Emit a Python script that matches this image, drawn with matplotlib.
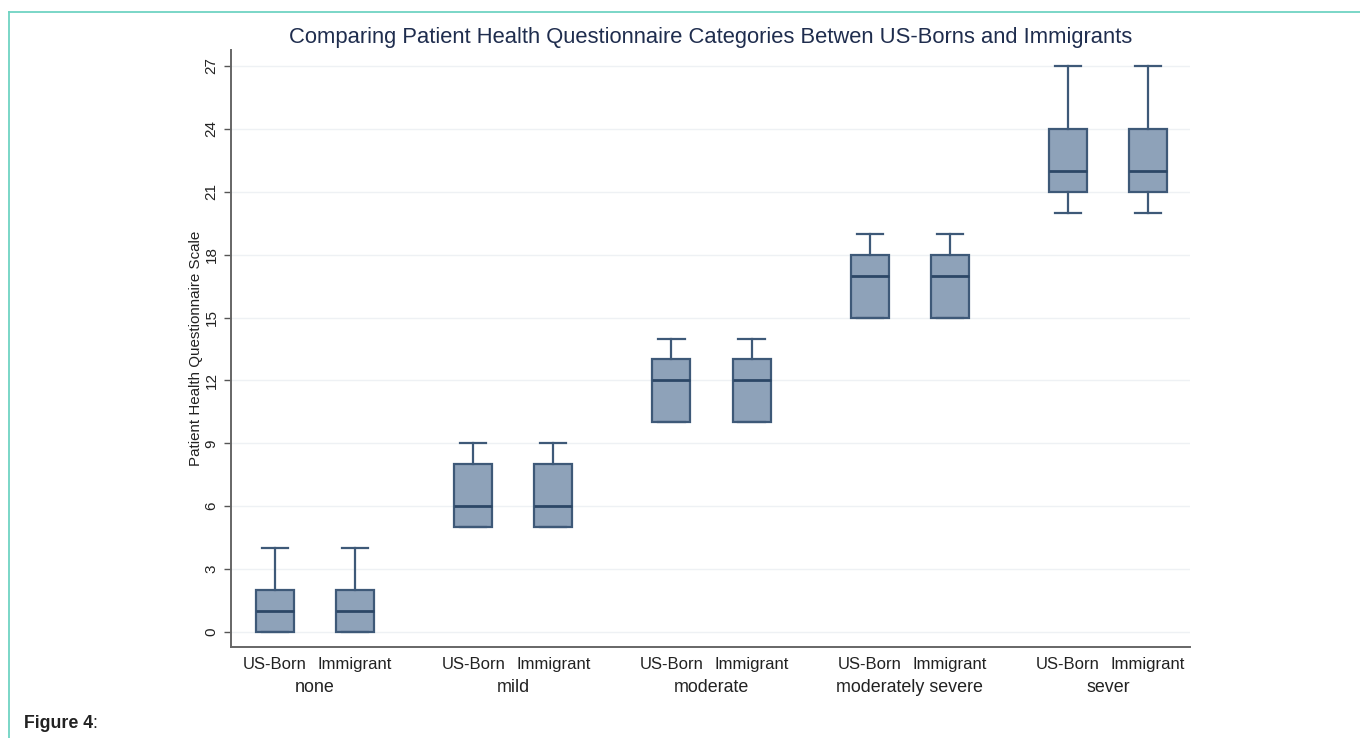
import matplotlib
matplotlib.use("Agg")
import matplotlib.pyplot as plt
from matplotlib.lines import Line2D
import matplotlib.transforms as mtrans

plt.rcParams['font.family'] = ['Liberation Sans', 'DejaVu Sans']

categories = ["none", "mild", "moderate", "moderately severe", "sever"]
groups = ["US-Born", "Immigrant"]
# per category: [whisker low, q1, median, q3, whisker high]
usborn = [[0, 0, 1, 2, 4], [5, 5, 6, 8, 9], [10, 10, 12, 13, 14], [15, 15, 17, 18, 19], [20, 21, 22, 24, 27]]
immigrant = [[0, 0, 1, 2, 4], [5, 5, 6, 8, 9], [10, 10, 12, 13, 14], [15, 15, 17, 18, 19], [20, 21, 22, 24, 27]]
yticks = [0, 3, 6, 9, 12, 15, 18, 21, 24, 27]

fig = plt.figure(figsize=(13.6, 7.38), dpi=100)
ax = fig.add_axes([231/1360, 1-647/738, (1190-231)/1360, (647-50)/738])

fill = "#8ea2b9"
edge = "#3e5978"
stats = []
positions = []
labels = []
for i, cat in enumerate(categories):
    for j, (g, data) in enumerate(zip(groups, [usborn, immigrant])):
        lo, q1, med, q3, hi = data[i]
        stats.append(dict(whislo=lo, q1=q1, med=med, q3=q3, whishi=hi, fliers=[], label=g))
        positions.append(i + (-0.202 if j == 0 else 0.202))
        labels.append(g)

ax.bxp(stats, positions=positions, widths=0.192, patch_artist=True, showfliers=False,
       boxprops=dict(facecolor=fill, edgecolor=edge, linewidth=1.6),
       medianprops=dict(color="#2c4766", linewidth=2.0),
       whiskerprops=dict(color=edge, linewidth=1.6),
       capprops=dict(color=edge, linewidth=1.6),
       capwidths=0.132, zorder=3)

ax.set_xlim(-0.424, 4.414)
ax.set_ylim(-0.716, 27.763)
ax.set_yticks(yticks)
ax.set_yticklabels([str(v) for v in yticks], rotation=90, va="center", fontsize=11, color="#222222")
ax.set_xticks(positions)
ax.set_xticklabels(labels, fontsize=12, color="#222222")
ax.tick_params(axis="x", length=0, pad=7)
ax.tick_params(axis="y", length=5, width=1, color="#555555", pad=4)
ax.grid(axis="y", color="#eef1f4", linewidth=1.0, zorder=0)
ax.set_axisbelow(True)
for s in ["top", "right"]:
    ax.spines[s].set_visible(False)
for s in ["left", "bottom"]:
    ax.spines[s].set_color("#666666")
    ax.spines[s].set_linewidth(1.4)

trans = mtrans.blended_transform_factory(ax.transData, fig.transFigure)
for i, cat in enumerate(categories):
    ax.text(i, 1-687/738, cat, transform=trans, ha="center", va="center", fontsize=12.9, color="#222222")

ax.set_ylabel("Patient Health Questionnaire Scale", fontsize=10.9, color="#222222", labelpad=1)

fig.text(711/1360, 1-38/738, "Comparing Patient Health Questionnaire Categories Betwen US-Borns and Immigrants",
         ha="center", va="center", fontsize=15.8, color="#1f2d4e")

fig.text(24/1360, 1-723/738, "Figure 4", ha="left", va="center", fontsize=12.8, fontweight="bold", color="#222222")
fig.text(24/1360 + 0.0505, 1-723/738, ":", ha="left", va="center", fontsize=12.8, color="#222222")

fig.add_artist(Line2D([9/1360, 9/1360], [0, 1-12/738], transform=fig.transFigure, color="#6fd3c3", linewidth=1.3))
fig.add_artist(Line2D([9/1360, 1], [1-12/738, 1-12/738], transform=fig.transFigure, color="#6fd3c3", linewidth=1.3))

fig.savefig("out.png", dpi=100)
